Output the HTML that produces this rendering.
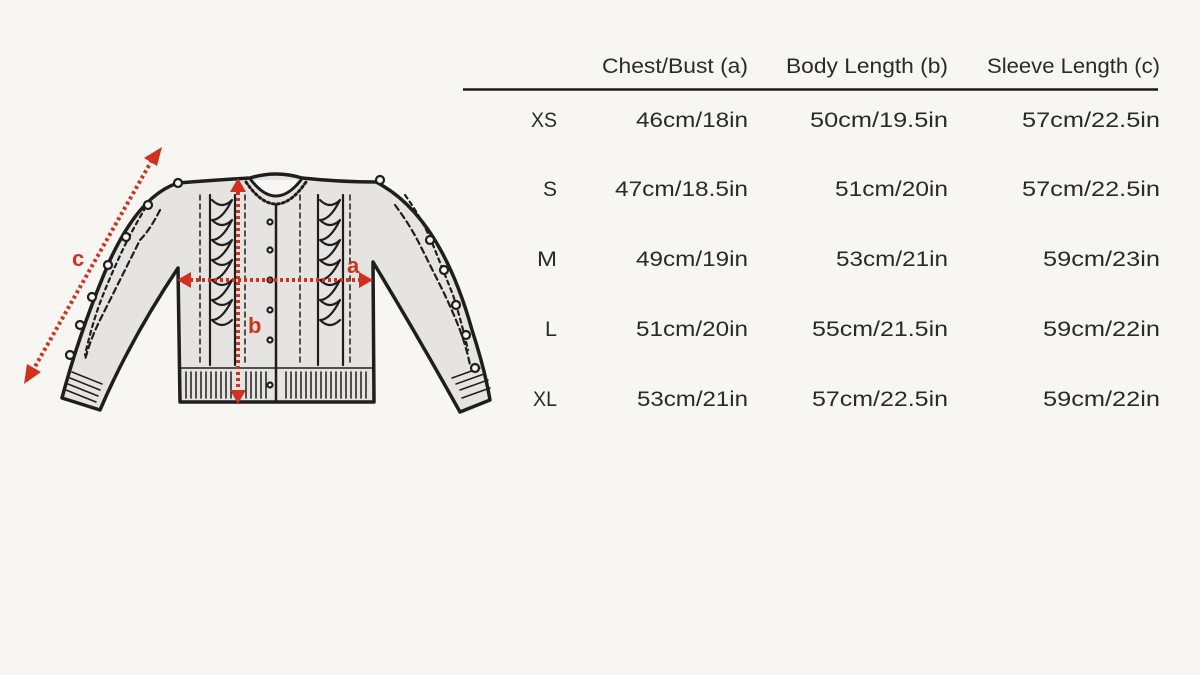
<!DOCTYPE html>
<html><head><meta charset="utf-8"><style>
html,body{margin:0;padding:0;background:#f8f6f2;}
svg{display:block}
</style></head><body>
<svg width="1200" height="675" viewBox="0 0 1200 675" xmlns="http://www.w3.org/2000/svg">
<rect width="1200" height="675" fill="#f8f6f2"/>
<!-- sweater -->
<g stroke="#1e1e1e" stroke-linejoin="round" stroke-linecap="round" fill="#e6e4e0">
<path d="M250,178 Q276,170 302,178 Q340,182 376,182 Q440,215 472,330 Q485,370 490,400 L460,412 Q420,340 373,262 L374,402 L180,402 L178,268 Q130,340 100,410 L62,398 Q80,330 110,260 Q140,195 178,183 Q215,180 250,178 Z" stroke-width="3.5"/>
<path d="M251,180 Q276,212 301,180" fill="#f8f6f2" stroke-width="3"/>
<path d="M246,182 Q276,226 306,182" fill="none" stroke-width="3" stroke-dasharray="2 3"/>
<line x1="276" y1="205" x2="276" y2="402" stroke-width="2.5"/>
<line x1="181" y1="368" x2="373" y2="368" stroke-width="1.5"/>
<g stroke-width="1.5">
<path d="M186,372 v26 M191,372 v26 M196,372 v26 M201,372 v26 M206,372 v26 M211,372 v26 M216,372 v26 M221,372 v26 M226,372 v26 M231,372 v26 M246,372 v26 M251,372 v26 M256,372 v26 M261,372 v26 M266,372 v26 M286,372 v26 M291,372 v26 M296,372 v26 M301,372 v26 M306,372 v26 M311,372 v26 M316,372 v26 M321,372 v26 M326,372 v26 M331,372 v26 M336,372 v26 M341,372 v26 M346,372 v26 M351,372 v26 M356,372 v26 M361,372 v26 M366,372 v26"/>
<path d="M70,378 l30,12 M68,384 l30,12 M66,390 l30,12 M72,372 l30,12 M460,390 l28,-10 M456,384 l28,-10 M462,398 l28,-10 M452,378 l28,-10"/>
</g>
<g fill="none" stroke-width="2.2">
<path d="M200,195 v170 M245,195 v170 M300,195 v170 M350,195 v170" stroke-dasharray="5 4" stroke-width="1.5"/>
<path d="M210,195 v170 M235,195 v170 M318,195 v170 M343,195 v170"/>
<path d="M212,200 q10,10 20,0 q-10,20 -20,20 q10,10 20,0 q-10,20 -20,20 q10,10 20,0 q-10,20 -20,20 q10,10 20,0 q-10,20 -20,20 q10,10 20,0 q-10,20 -20,20 q10,10 20,0 q-10,20 -20,20 q10,10 20,0"/>
<path d="M320,200 q10,10 20,0 q-10,20 -20,20 q10,10 20,0 q-10,20 -20,20 q10,10 20,0 q-10,20 -20,20 q10,10 20,0 q-10,20 -20,20 q10,10 20,0 q-10,20 -20,20 q10,10 20,0 q-10,20 -20,20 q10,10 20,0"/>
<path d="M160,210 q-10,20 -20,30 q-10,20 -20,40 q-10,20 -20,40 q-10,20 -15,40" stroke-dasharray="6 4"/>
<path d="M150,200 q-15,25 -25,45 q-12,25 -22,50 q-10,25 -18,60" stroke-dasharray="4 4"/>
<path d="M395,205 q15,20 25,40 q10,20 20,40 q10,20 18,40 q8,20 12,40" stroke-dasharray="6 4"/>
<path d="M405,195 q18,25 28,50 q10,25 20,50 q8,25 15,55" stroke-dasharray="4 4"/>
</g>
<g fill="#f8f6f2" stroke-width="2.2">
<circle cx="178" cy="183" r="4"/><circle cx="148" cy="205" r="4"/><circle cx="126" cy="237" r="4"/><circle cx="108" cy="265" r="4"/><circle cx="92" cy="297" r="4"/><circle cx="80" cy="325" r="4"/><circle cx="70" cy="355" r="4"/>
<circle cx="380" cy="180" r="4"/><circle cx="430" cy="240" r="4"/><circle cx="444" cy="270" r="4"/><circle cx="456" cy="305" r="4"/><circle cx="466" cy="335" r="4"/><circle cx="475" cy="368" r="4"/>
<circle cx="270" cy="222" r="2.5"/><circle cx="270" cy="250" r="2.5"/><circle cx="270" cy="280" r="2.5"/><circle cx="270" cy="310" r="2.5"/><circle cx="270" cy="340" r="2.5"/><circle cx="270" cy="385" r="2.5"/>
</g>
</g>
<!-- red arrows -->
<g stroke="#d0321f" stroke-width="4" stroke-dasharray="3 3" fill="none">
<line x1="152" y1="160" x2="32" y2="372"/>
<line x1="190" y1="280" x2="362" y2="280"/>
<line x1="238" y1="192" x2="238" y2="390"/>
</g>
<g fill="#d0321f">
<polygon points="162,147 144,158 157,166"/>
<polygon points="24,384 27,364 41,372"/>
<polygon points="177,280 191,272 191,288"/>
<polygon points="373,280 359,272 359,288"/>
<polygon points="238,178 230,192 246,192"/>
<polygon points="238,404 230,390 246,390"/>
</g>
<g fill="#d0321f" font-family="Liberation Sans, sans-serif" font-weight="bold" font-size="22">
<text x="72" y="266">c</text><text x="347" y="273">a</text><text x="248" y="333">b</text>
</g>
<!-- table -->
<line x1="463" y1="89.5" x2="1158" y2="89.5" stroke="#1a1a1a" stroke-width="2.5"/>
<g font-family="Liberation Sans, sans-serif" font-size="21" fill="#2a2a2a" text-anchor="end">
<text x="748" y="73" textLength="146" lengthAdjust="spacingAndGlyphs">Chest/Bust (a)</text>
<text x="948" y="73" textLength="162" lengthAdjust="spacingAndGlyphs">Body Length (b)</text>
<text x="1160" y="73" textLength="173" lengthAdjust="spacingAndGlyphs">Sleeve Length (c)</text>

<text x="557" y="127" textLength="26" lengthAdjust="spacingAndGlyphs">XS</text>
<text x="748" y="127" textLength="112" lengthAdjust="spacingAndGlyphs">46cm/18in</text>
<text x="948" y="127" textLength="138" lengthAdjust="spacingAndGlyphs">50cm/19.5in</text>
<text x="1160" y="127" textLength="138" lengthAdjust="spacingAndGlyphs">57cm/22.5in</text>

<text x="557" y="196" textLength="14" lengthAdjust="spacingAndGlyphs">S</text>
<text x="748" y="196" textLength="133" lengthAdjust="spacingAndGlyphs">47cm/18.5in</text>
<text x="948" y="196" textLength="113" lengthAdjust="spacingAndGlyphs">51cm/20in</text>
<text x="1160" y="196" textLength="138" lengthAdjust="spacingAndGlyphs">57cm/22.5in</text>

<text x="557" y="266" textLength="20" lengthAdjust="spacingAndGlyphs">M</text>
<text x="748" y="266" textLength="112" lengthAdjust="spacingAndGlyphs">49cm/19in</text>
<text x="948" y="266" textLength="112" lengthAdjust="spacingAndGlyphs">53cm/21in</text>
<text x="1160" y="266" textLength="117" lengthAdjust="spacingAndGlyphs">59cm/23in</text>

<text x="557" y="336" textLength="12" lengthAdjust="spacingAndGlyphs">L</text>
<text x="748" y="336" textLength="112" lengthAdjust="spacingAndGlyphs">51cm/20in</text>
<text x="948" y="336" textLength="136" lengthAdjust="spacingAndGlyphs">55cm/21.5in</text>
<text x="1160" y="336" textLength="117" lengthAdjust="spacingAndGlyphs">59cm/22in</text>

<text x="557" y="406" textLength="24" lengthAdjust="spacingAndGlyphs">XL</text>
<text x="748" y="406" textLength="111" lengthAdjust="spacingAndGlyphs">53cm/21in</text>
<text x="948" y="406" textLength="136" lengthAdjust="spacingAndGlyphs">57cm/22.5in</text>
<text x="1160" y="406" textLength="117" lengthAdjust="spacingAndGlyphs">59cm/22in</text>
</g>
</svg>
</body></html>
